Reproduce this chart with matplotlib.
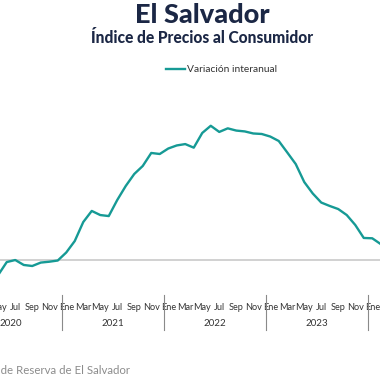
import matplotlib
matplotlib.use("Agg")
import matplotlib.pyplot as plt
import matplotlib.transforms as mtransforms
import numpy as np

# ---- data ----
meses = ['Ene', 'Feb', 'Mar', 'Abr', 'May', 'Jun', 'Jul', 'Ago', 'Sep', 'Oct', 'Nov', 'Dic']
anios = ['2020', '2021', '2022', '2023', '2024']
inicio_mes = 4  # May 2020 (index from Ene 2020)
valores = [
    -0.90, -0.15, -0.03, -0.32, -0.38, -0.18, -0.13, -0.06,             # May-Dic 2020
    0.41, 1.08, 2.19, 2.84, 2.60, 2.54, 3.48, 4.30, 5.00, 5.47, 6.23, 6.17,  # 2021
    6.49, 6.67, 6.75, 6.54, 7.40, 7.82, 7.46, 7.67, 7.54, 7.49, 7.37, 7.34,  # 2022
    7.19, 6.93, 6.26, 5.58, 4.53, 3.86, 3.33, 3.13, 2.95, 2.60, 2.02, 1.26,  # 2023
    1.24, 0.90,                                                          # Ene-Feb 2024
]
serie = 'Variación interanual'
titulo = 'El Salvador'
subtitulo = 'Índice de Precios al Consumidor'
fuente = 'Fuente: Banco Central de Reserva de El Salvador'

# ---- style ----
W = H = 380
plt.rcParams['font.family'] = ['Lato', 'DejaVu Sans']
teal = '#169a95'
navy = '#1b2745'

fig = plt.figure(figsize=(3.8, 3.8), dpi=100)
fig.patch.set_facecolor('white')

def fx(px):
    return px / W

def fy(py):
    return 1 - py / H

# plot area extends a little beyond the canvas (cropped chart)
band = 8.5                 # px per month
x0_px = -35.75 - band / 2  # left edge of Ene 2020 band
m_lo, m_hi = -0.5, 49.5
ax_left = x0_px
ax_right = x0_px + (m_hi - m_lo) * band
ax_top, ax_bot = 95, 290
ax = fig.add_axes([fx(ax_left), fy(ax_bot), (ax_right - ax_left) / W, (ax_bot - ax_top) / H])

x = np.arange(inicio_mes, inicio_mes + len(valores))
ax.axhline(0, color='#c9c9c9', lw=1.2, zorder=1)
ax.plot(x, valores, color=teal, lw=1.7, solid_joinstyle='round',
        solid_capstyle='round', zorder=3)

for s in ax.spines.values():
    s.set_visible(False)
ax.set_yticks([])

n_total = len(anios) * 12
ticks = [m for m in range(n_total) if m % 2 == 0 and m_lo < m < m_hi]
ax.set_xticks(ticks)
ax.set_xticklabels([meses[m % 12] for m in ticks], fontsize=6.6, color='#333333')
ax.tick_params(axis='x', length=0, pad=9)

ax.set_xlim(m_lo, m_hi)
zero_px, px_per_unit = 259.5, 17.1
ax.set_ylim((zero_px - ax_bot) / px_per_unit, (zero_px - ax_top) / px_per_unit)

# year groups
trans = mtransforms.blended_transform_factory(ax.transData, ax.transAxes)
ah = ax_bot - ax_top
for i, a in enumerate(anios):
    start = i * 12 - 0.5
    if start > m_lo:
        ax.plot([start, start], [-5 / ah, -40 / ah], transform=trans, clip_on=False,
                color='#8a8a8a', lw=0.8)
    if start + 6 < m_hi:
        ax.text(start + 6, -33 / ah, a, transform=trans, ha='center', va='center',
                fontsize=7, color='#333333', clip_on=False)

# titles
fig.text(fx(202), fy(15), titulo, ha='center', va='center', fontsize=19.5,
         fontweight='black', color=navy)
fig.text(fx(202), fy(38), subtitulo, ha='center', va='center', fontsize=11.2,
         fontweight='black', color=navy)

# legend
fig.add_artist(plt.Line2D([fx(166), fx(185)], [fy(69), fy(69)], color=teal, lw=1.7,
                          transform=fig.transFigure))
fig.text(fx(187), fy(69), serie, ha='left', va='center', fontsize=7.4, color='#333333')

# source
fig.text(fx(130), fy(370), fuente, ha='right', va='center', fontsize=8.3, color='#8c8c8c')

fig.savefig('out.png', dpi=100, facecolor='white')
